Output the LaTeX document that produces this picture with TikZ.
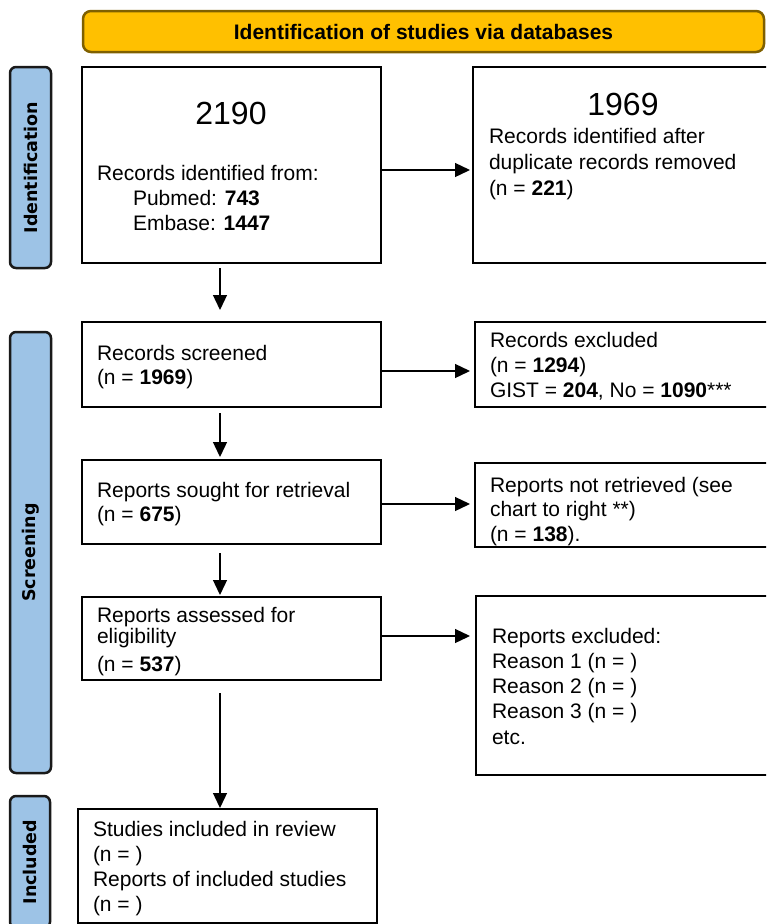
\documentclass[tikz,border=0pt]{standalone}
\usepackage{fontspec}
\setmainfont{Liberation Sans}
\newfontfamily\sidefont{DejaVu Sans}
\usetikzlibrary{arrows.meta}
\definecolor{bannerfill}{HTML}{FFC000}
\definecolor{bannerdraw}{HTML}{7F6000}
\definecolor{sidefill}{HTML}{9DC3E6}
\definecolor{sidedraw}{HTML}{1A1A1A}
\newcommand{\tstr}{\rule{0pt}{16pt}}
\tikzset{
  box/.style={draw=black, line width=2.5pt, rectangle, inner sep=0pt, outer sep=0pt},
  banner/.style={draw=bannerdraw, fill=bannerfill, line width=2.5pt, rounded corners=8pt,
    inner sep=0pt, outer sep=0pt, font=\fontsize{21}{25}\selectfont\bfseries},
  sidebar/.style={draw=sidedraw, fill=sidefill, line width=2.5pt, rounded corners=6pt,
    inner sep=0pt, outer sep=0pt, rotate=90, font=\sidefont\fontsize{17.5}{20}\selectfont\bfseries},
  txt/.style={anchor=north west, inner sep=0pt, outer sep=0pt, align=left, font=\fontsize{21}{25}\selectfont},
  bignum/.style={anchor=base, inner sep=0pt, font=\fontsize{32}{36}\selectfont},
  arr/.style={line width=1.3pt, -{Triangle[length=15pt,width=14pt]}}
}
\begin{document}
\begin{tikzpicture}[x=1pt,y=-1pt]
\useasboundingbox (0,0) rectangle (766,924);
\clip (0,0) rectangle (766,924);

% banner
\node[banner, minimum width=681pt, minimum height=41pt] (ban) at (423.5,31.5) {Identification of studies via databases};

% side bars
\node[sidebar, minimum width=201pt, minimum height=41pt] (sid) at (30.5,167.5) {Identification};
\node[sidebar, minimum width=441pt, minimum height=41pt] (ssc) at (30.5,552.5) {Screening};
\node[sidebar, minimum width=132pt, minimum height=40pt] (sin) at (30,862) {Included};

% boxes
\node[box, minimum width=299pt, minimum height=196pt] (b1) at (231.5,165) {};
\node[box, minimum width=317pt, minimum height=196pt] (b2) at (631.5,165) {};
\node[box, minimum width=299pt, minimum height=85pt] (b3) at (231.5,364.5) {};
\node[box, minimum width=315pt, minimum height=85pt] (b4) at (632.5,364.5) {};
\node[box, minimum width=299pt, minimum height=84pt] (b5) at (231.5,502) {};
\node[box, minimum width=315pt, minimum height=84pt] (b6) at (632.5,505) {};
\node[box, minimum width=299pt, minimum height=83pt] (b7) at (231.5,638.5) {};
\node[box, minimum width=314pt, minimum height=179pt] (b8) at (633,685.5) {};
\node[box, minimum width=299pt, minimum height=114pt] (b9) at (227.5,866) {};

% texts
\node[bignum] (n1) at (231,124) {2190};
\node[txt] (t1) at (97,164) {\tstr Records identified from:\\ \hspace*{36pt}Pubmed: \textbf{743}\\ \hspace*{36pt}Embase: \textbf{1447}};
\node[bignum] (n2) at (623,115) {1969};
\node[txt, font=\fontsize{21}{26}\selectfont] (t2) at (489,127) {\tstr Records identified after\\duplicate records removed\\(n = \textbf{221})};
\node[txt, font=\fontsize{21}{24}\selectfont] (t3) at (97,344) {\tstr Records screened\\(n = \textbf{1969})};
\node[txt] (t4) at (490,331) {\tstr Records excluded\\(n = \textbf{1294})\\GIST = \textbf{204}, No = \textbf{1090}***};
\node[txt, font=\fontsize{21}{24}\selectfont] (t5) at (97,481) {\tstr Reports sought for retrieval\\(n = \textbf{675})};
\node[txt, font=\fontsize{21}{24.5}\selectfont] (t6) at (490,476) {\tstr Reports not retrieved (see\\chart to right **)\\(n = \textbf{138}).};
\node[txt] (t7) at (97,606) {\tstr Reports assessed for\\[-4pt]eligibility\\[3pt](n = \textbf{537})};
\node[txt, font=\fontsize{21}{25.25}\selectfont] (t8) at (492,627) {\tstr Reports excluded:\\Reason 1 (n = )\\Reason 2 (n = )\\Reason 3 (n = )\\etc.};
\node[txt, font=\fontsize{21}{25.3}\selectfont] (t9) at (93,820) {\tstr Studies included in review\\(n = )\\Reports of included studies\\(n = )};

% horizontal arrows
\draw[arr, shorten >=3pt] ([yshift=-5pt]b1.east) -- ([yshift=-5pt]b1.east -| b2.west);
\draw[arr, shorten >=5pt] ([yshift=-6.5pt]b3.east) -- ([yshift=-6.5pt]b3.east -| b4.west);
\draw[arr, shorten >=5pt] ([yshift=-2pt]b5.east) -- ([yshift=-2pt]b5.east -| b6.west);
\draw[arr, shorten >=6pt] ([yshift=2.5pt]b7.east) -- ([yshift=2.5pt]b7.east -| b8.west);

% vertical arrows
\draw[arr, shorten <=5pt, shorten >=12pt] ([xshift=-11.5pt]b1.south) -- ([xshift=-11.5pt]b1.south |- b3.north);
\draw[arr, shorten <=6pt, shorten >=3pt] ([xshift=-11.5pt]b3.south) -- ([xshift=-11.5pt]b3.south |- b5.north);
\draw[arr, shorten <=9pt, shorten >=2pt] ([xshift=-11.5pt]b5.south) -- ([xshift=-11.5pt]b5.south |- b7.north);
\draw[arr, shorten <=13pt, shorten >=1pt] ([xshift=-11.5pt]b7.south) -- ([xshift=-11.5pt]b7.south |- b9.north);
\end{tikzpicture}
\end{document}
